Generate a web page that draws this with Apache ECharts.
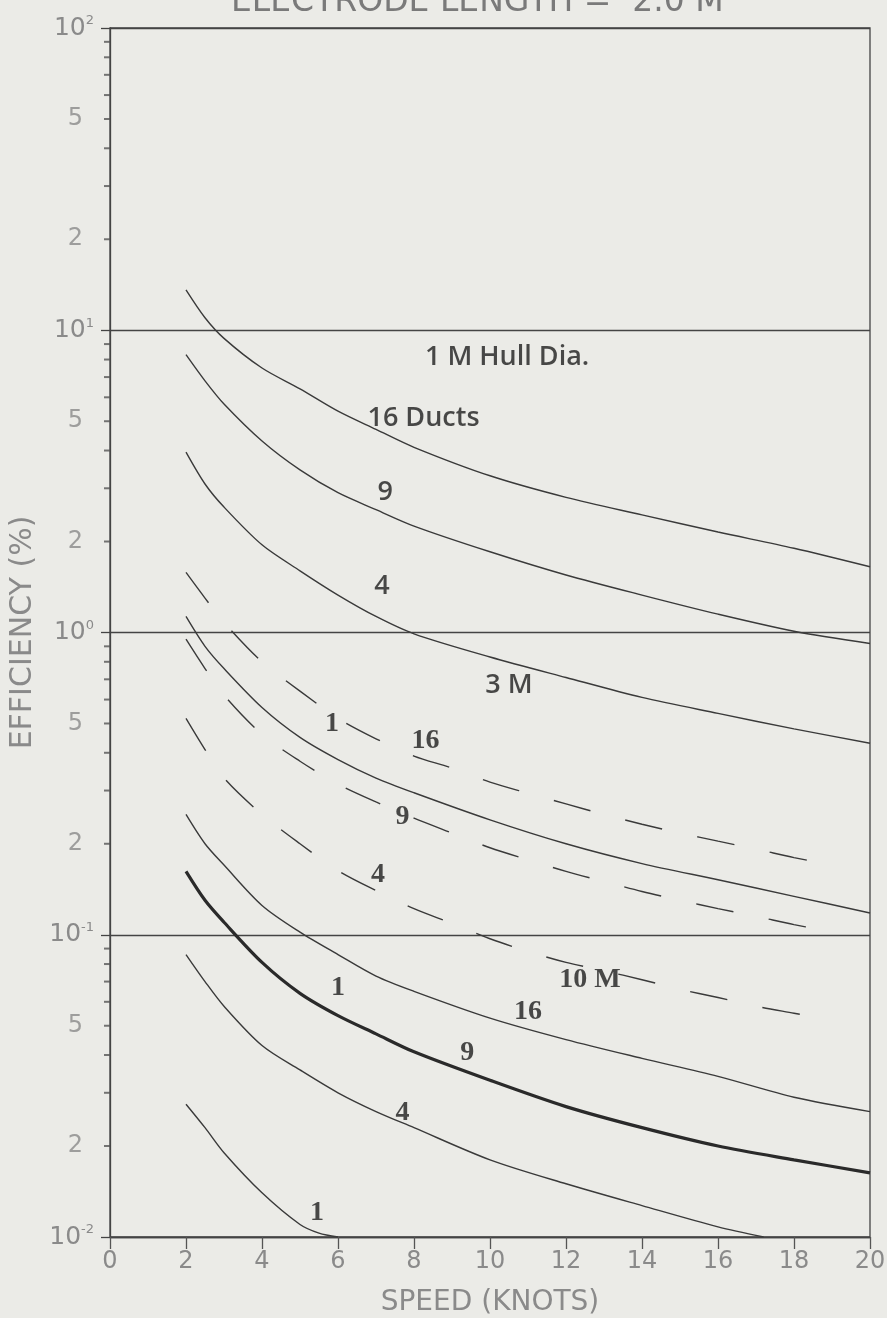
<!DOCTYPE html>
<html><head><meta charset="utf-8">
<script src="https://cdn.jsdelivr.net/npm/echarts@6/dist/echarts.min.js"></script>
<style>html,body{margin:0;padding:0;background:#ebebe7}#c{width:887px;height:1318px}</style>
</head><body><div id="c"></div>
<script>
// ---- data (speed in knots, efficiency in %) ----
const speeds = [2, 2.5, 3, 4, 5, 6, 7, 8, 10, 12, 14, 16, 18, 20];
const hull1m_16 = [13.6, 11.0, 9.4, 7.5, 6.4, 5.4, 4.7, 4.1, 3.3, 2.8, 2.45, 2.15, 1.9, 1.65];
const hull1m_9  = [8.3, 6.8, 5.7, 4.3, 3.45, 2.9, 2.55, 2.25, 1.85, 1.55, 1.33, 1.15, 1.01, 0.92];
const hull1m_4  = [3.95, 3.1, 2.6, 1.95, 1.6, 1.33, 1.13, 0.99, 0.83, 0.71, 0.61, 0.54, 0.48, 0.43];
const hull1m_1  = [1.13, 0.9, 0.76, 0.565, 0.45, 0.38, 0.33, 0.295, 0.24, 0.2, 0.172, 0.152, 0.134, 0.118];

const speedsDash = [2, 2.5, 3, 4, 5, 6, 7, 8, 9, 10, 11, 12, 13, 14, 15, 16, 17, 18, 18.7];
const hull3m_16 = [1.58, 1.3, 1.08, 0.8, 0.64, 0.52, 0.445, 0.39, 0.356, 0.32, 0.294, 0.271, 0.25, 0.232, 0.217, 0.204, 0.192, 0.18, 0.173];
const hull3m_9  = [0.95, 0.76, 0.62, 0.46, 0.375, 0.315, 0.275, 0.243, 0.217, 0.194, 0.177, 0.162, 0.15, 0.139, 0.13, 0.122, 0.115, 0.108, 0.104];
const hull3m_4  = [0.52, 0.41, 0.33, 0.25, 0.2, 0.163, 0.14, 0.122, 0.109, 0.097, 0.088, 0.081, 0.076, 0.071, 0.066, 0.062, 0.058, 0.055, 0.053];

const hull10m_16 = [0.25, 0.2, 0.17, 0.125, 0.102, 0.086, 0.073, 0.065, 0.053, 0.045, 0.039, 0.034, 0.029, 0.026];
const hull10m_9  = [0.162, 0.13, 0.11, 0.081, 0.064, 0.054, 0.047, 0.041, 0.033, 0.027, 0.023, 0.02, 0.018, 0.0163];
const speeds10m_4 = [2, 2.5, 3, 4, 5, 6, 7, 8, 10, 12, 14, 16, 17.2];
const hull10m_4  = [0.086, 0.07, 0.058, 0.043, 0.0357, 0.03, 0.026, 0.023, 0.018, 0.015, 0.0127, 0.0108, 0.01];
const speeds10m_1 = [2, 2.5, 3, 4, 5, 5.5, 6];
const hull10m_1  = [0.0275, 0.023, 0.019, 0.014, 0.011, 0.0103, 0.01];

const xTicks = [0, 2, 4, 6, 8, 10, 12, 14, 16, 18, 20];
const yMinorLabelValues = [50, 20, 5, 2, 0.5, 0.2, 0.05, 0.02];
const yMinorTickValues = [20,30,40,50,60,70,80,90, 2,3,4,5,6,7,8,9, 0.2,0.3,0.4,0.5,0.6,0.7,0.8,0.9, 0.02,0.03,0.04,0.05,0.06,0.07,0.08,0.09];

const titleText = 'ELECTRODE LENGTH =  2.0 M';
const xName = 'SPEED (KNOTS)';
const yName = 'EFFICIENCY (%)';

// annotation texts with their anchor (speed, efficiency)
const annotations = [
  ['1 M Hull Dia.', 10.45, 8.15, 'sans'],
  ['16 Ducts', 8.25, 5.1, 'sans'],
  ['9', 7.24, 2.92, 'sans'],
  ['4', 7.16, 1.42, 'sans'],
  ['3 M', 10.5, 0.67, 'sans'],
  ['1', 5.84, 0.5, 'serif'],
  ['16', 8.3, 0.44, 'serif'],
  ['9', 7.7, 0.245, 'serif'],
  ['4', 7.05, 0.158, 'serif'],
  ['1', 6.0, 0.0667, 'serif'],
  ['16', 11.0, 0.0555, 'serif'],
  ['10 M', 12.63, 0.0708, 'serif'],
  ['9', 9.4, 0.0407, 'serif'],
  ['4', 7.7, 0.0257, 'serif'],
  ['1', 5.45, 0.012, 'serif']
];

// ---- chart ----
const INK = '#3a3a3a';
const TICKC = '#8a8a8a';
const zip = (xs, ys) => xs.map((x, i) => [x, ys[i]]);
function curve(name, xs, ys, extra) {
  return Object.assign({
    name, type: 'line', data: zip(xs, ys), showSymbol: false, symbol: 'none',
    smooth: 0.3, silent: true,
    lineStyle: { color: INK, width: 1.4 }
  }, extra || {});
}
const dashed = { lineStyle: { color: INK, width: 1.4, type: [38, 36] } };

const chart = echarts.init(document.getElementById('c'));
chart.setOption({
  backgroundColor: '#ebebe7',
  animation: false,
  title: {
    text: titleText, left: 226, top: -19,
    textStyle: { fontFamily: 'DejaVu Sans', fontSize: 33, fontWeight: 'normal', color: '#7a7a7a' }
  },
  grid: { left: 110, right: 17, top: 28, bottom: 81, containLabel: false, outerBoundsMode: 'none',
          show: true, borderColor: '#444', borderWidth: 1.3 },
  xAxis: {
    type: 'value', min: 0, max: 20, interval: 2,
    name: xName, nameLocation: 'middle', nameGap: 52,
    nameTextStyle: { fontFamily: 'DejaVu Sans', fontSize: 28, color: TICKC },
    axisLine: { lineStyle: { color: '#444', width: 1.3 } },
    axisTick: { length: 12, lineStyle: { color: '#555', width: 1.3 } },
    axisLabel: { margin: 13, fontFamily: 'DejaVu Sans', fontSize: 24, color: TICKC },
    splitLine: { show: false }
  },
  yAxis: {
    type: 'log', logBase: 10, min: 0.01, max: 100,
    name: yName, nameLocation: 'middle', nameGap: 66, nameRotate: 90,
    nameTextStyle: { fontFamily: 'DejaVu Sans', fontSize: 30, color: TICKC },
    axisLine: { show: true, lineStyle: { color: '#444', width: 1.3 } },
    axisTick: { length: 9, lineStyle: { color: '#444', width: 1.3 } },
    axisLabel: {
      margin: 16, color: TICKC,
      formatter: v => { const e = Math.round(Math.log10(v)); return '{b|10}{s|' + (e < 0 ? '-' : '') + Math.abs(e) + '}'; },
      rich: {
        b: { fontFamily: 'DejaVu Sans', fontSize: 25, color: TICKC },
        s: { fontFamily: 'DejaVu Sans', fontSize: 13, color: TICKC, verticalAlign: 'top', padding: [0, 0, 14, 0] }
      }
    },
    splitLine: { show: true, lineStyle: { color: '#444', width: 1.3 } },
    minorTick: { show: false }
  },
  series: [
    curve('1 M, 16 ducts', speeds, hull1m_16),
    curve('1 M, 9 ducts', speeds, hull1m_9),
    curve('1 M, 4 ducts', speeds, hull1m_4),
    curve('1 M, 1 duct', speeds, hull1m_1),
    curve('3 M, 16 ducts', speedsDash, hull3m_16, dashed),
    curve('3 M, 9 ducts', speedsDash, hull3m_9, dashed),
    curve('3 M, 4 ducts', speedsDash, hull3m_4, dashed),
    curve('10 M, 16 ducts', speeds, hull10m_16),
    curve('10 M, 9 ducts / 3 M, 1 duct', speeds, hull10m_9, { lineStyle: { color: '#2a2a2a', width: 3.2 } }),
    curve('10 M, 4 ducts', speeds10m_4, hull10m_4),
    curve('10 M, 1 duct', speeds10m_1, hull10m_1),
    {
      name: 'y minor ticks', type: 'scatter', silent: true, clip: false,
      data: yMinorTickValues.map(v => [0, v]),
      symbol: 'rect', symbolSize: [6, 2], symbolOffset: [-3, 0],
      itemStyle: { color: '#555' }
    },
    {
      name: 'y minor labels', type: 'scatter', silent: true, clip: false,
      data: yMinorLabelValues.map(v => [0, v]), symbolSize: 0,
      label: {
        show: true, position: 'left', distance: 27,
        formatter: p => String(p.value[1]).replace(/0|\./g, ''),
        fontFamily: 'DejaVu Sans', fontSize: 24, color: TICKC
      }
    },
    {
      name: 'annotations', type: 'scatter', silent: true, clip: false,
      data: annotations.map(a => ({ value: [a[1], a[2]], name: a[0],
        label: a[3] === 'sans'
          ? { fontFamily: 'Open Sans', fontWeight: 600, fontSize: 27, color: '#1e1e1e' }
          : { fontFamily: 'Liberation Serif', fontWeight: 'bold', fontSize: 28, color: '#1e1e1e' } })),
      symbolSize: 0,
      label: { show: true, position: [0, 0], align: 'center', verticalAlign: 'middle', formatter: p => p.name }
    }
  ]
});
</script></body></html>
